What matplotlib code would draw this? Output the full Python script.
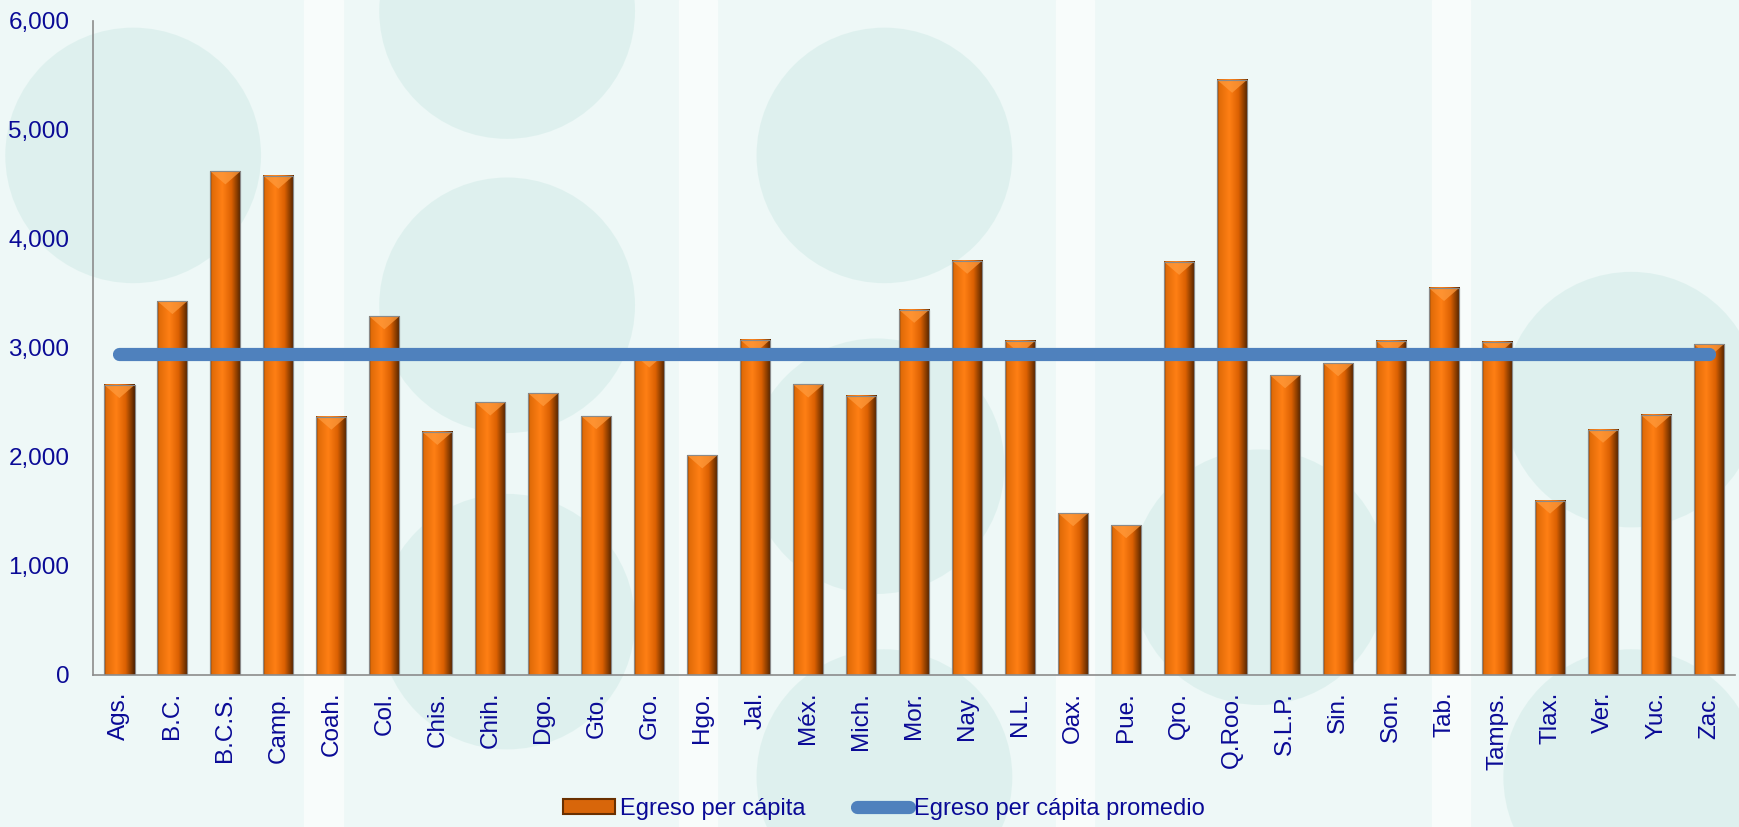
import matplotlib.pyplot as plt
import matplotlib.patches as mpatches
import matplotlib.ticker as mticker
from matplotlib.lines import Line2D
import numpy as np

#------------------------------------Datos---------------------------------------------------#
estados = ['Ags.', 'B.C.', 'B.C.S.', 'Camp.', 'Coah.', 'Col.', 'Chis.', 'Chih.', 'Dgo.', 'Gto.',
           'Gro.', 'Hgo.', 'Jal.', 'Méx.', 'Mich.', 'Mor.', 'Nay.', 'N.L.', 'Oax.', 'Pue.',
           'Qro.', 'Q.Roo.', 'S.L.P.', 'Sin.', 'Son.', 'Tab.', 'Tamps.', 'Tlax.', 'Ver.', 'Yuc.', 'Zac.']
egreso = [2660, 3430, 4620, 4580, 2370, 3290, 2230, 2500, 2585, 2375,
          2940, 2015, 3075, 2665, 2560, 3350, 3800, 3065, 1485, 1375,
          3790, 5460, 2750, 2860, 3065, 3550, 3055, 1600, 2250, 2385, 3035]
promedio = 2940

azul_texto = '#0A0A96'
azul_linea = '#4F81BD'

plt.rcParams['font.family'] = ['Liberation Sans', 'DejaVu Sans']

fig = plt.figure(figsize=(17.4, 8.27), dpi=100)
fig.patch.set_facecolor('#EEF8F7')

#------------------------------------Fondo decorativo---------------------------------------------------#
# franjas verticales claras
for xs in [0.175, 0.39, 0.607, 0.823]:
    fig.patches.append(mpatches.Rectangle((xs, 0), 0.022, 1, transform=fig.transFigure,
                                          color='#F8FCFB', zorder=-3))
# burbujas
burbujas = [(120, 140), (457, 10), (457, 275), (797, 140), (790, 420), (1135, 520),
            (1470, 360), (797, 700), (1470, 700), (457, 560)]
for cx, cy in burbujas:
    fig.patches.append(mpatches.Ellipse((cx / 1568, 1 - cy / 745), 0.147, 0.309,
                                        transform=fig.transFigure, color='#D8EEEB',
                                        alpha=0.7, zorder=-2, lw=0))

ax = fig.add_axes([0.0534, 0.1838, 0.944, 0.791])
ax.set_facecolor('none')

#------------------------------------Barras con degradado---------------------------------------------------#
xx = np.arange(len(estados))
ancho = 0.57
barras = ax.bar(xx, egreso, width=ancho, color='#E8700A', edgecolor='#9A9A9A', linewidth=0.8, zorder=2,
                label='Egreso per cápita')

stops = [0.0, 0.06, 0.4, 0.7, 0.9, 1.0]
cols = [(0.45, 0.22, 0.02), (0.88, 0.42, 0.03), (1.0, 0.50, 0.08), (0.86, 0.38, 0.01),
        (0.50, 0.22, 0.0), (0.30, 0.13, 0.0)]
t = np.linspace(0, 1, 64)
grad = np.zeros((1, 64, 3))
for c in range(3):
    grad[0, :, c] = np.interp(t, stops, [col[c] for col in cols])

for i, b in enumerate(barras):
    h = egreso[i]
    x0 = xx[i] - ancho / 2
    ax.imshow(grad, extent=[x0, x0 + ancho, 0, h], aspect='auto', zorder=2.1, interpolation='bilinear')
    tri = mpatches.Polygon([(x0, h), (x0 + ancho, h), (xx[i], h - 120)], closed=True,
                           color='#FF9A3C', alpha=0.75, lw=0, zorder=2.2)
    ax.add_patch(tri)
    ax.add_patch(mpatches.Rectangle((x0, 0), ancho, h, fill=False, edgecolor='#8A8A8A',
                                    lw=0.8, zorder=2.3))

#------------------------------------Linea promedio---------------------------------------------------#
ax.plot([xx[0], xx[-1]], [promedio, promedio], color=azul_linea, lw=9.5,
        solid_capstyle='round', zorder=3)

ax.set_xlim(-0.5, len(estados) - 0.5)
ax.set_ylim(0, 6000)
ax.set_yticks(range(0, 6001, 1000))
ax.yaxis.set_major_formatter(mticker.FuncFormatter(lambda v, p: '{:,.0f}'.format(v)))
ax.set_xticks(xx)
ax.set_xticklabels(estados, rotation=90)
ax.tick_params(axis='both', length=0, labelsize=17.5, labelcolor=azul_texto)
ax.tick_params(axis='y', pad=17)
ax.tick_params(axis='x', pad=12)

for lado in ['top', 'right']:
    ax.spines[lado].set_visible(False)
ax.spines['left'].set_color('#8C8C8C')
ax.spines['bottom'].set_color('#8C8C8C')
ax.spines['left'].set_linewidth(1.2)
ax.spines['bottom'].set_linewidth(1.2)

#------------------------------------Leyenda---------------------------------------------------#
h1 = mpatches.Rectangle((0, 0), 1, 1, facecolor='#D8660A', edgecolor='#6A3000', lw=1.5)
h2 = Line2D([0], [0], color=azul_linea, lw=9.5, solid_capstyle='round')
leg = fig.legend([h1, h2], ['Egreso per cápita', 'Egreso per cápita promedio'],
                 loc='center', bbox_to_anchor=(0.508, 0.022), ncol=2, frameon=False,
                 fontsize=17, handlelength=2.2, handleheight=0.55, handletextpad=0.2,
                 columnspacing=2.2)
for txt in leg.get_texts():
    txt.set_color(azul_texto)

fig.savefig('out.png', dpi=100, facecolor=fig.get_facecolor())
